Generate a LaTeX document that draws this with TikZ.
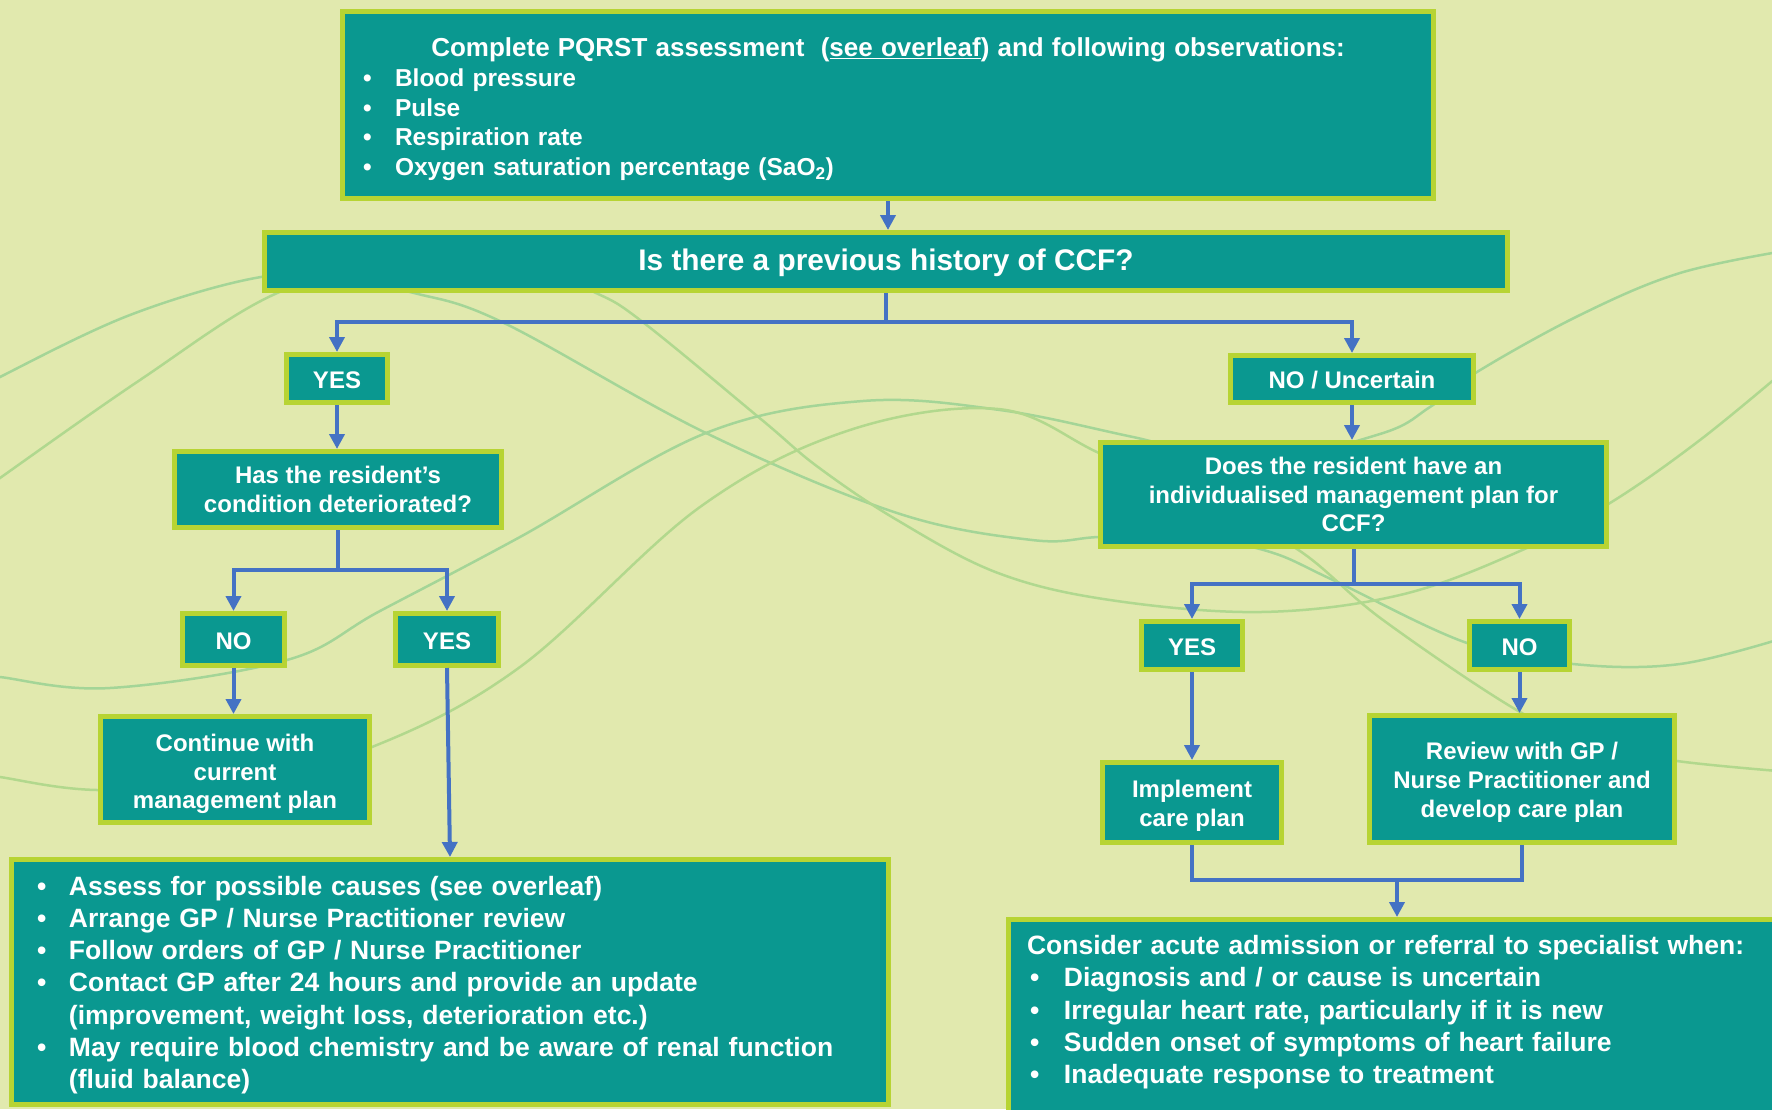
\documentclass[tikz,border=0pt]{standalone}
\usepackage{fontspec}
\setmainfont{Liberation Sans}
\usetikzlibrary{arrows.meta}

\definecolor{bgc}{HTML}{E1E9AE}
\definecolor{boxfill}{HTML}{0A9890}
\definecolor{boxedge}{HTML}{B7D433}
\definecolor{flow}{HTML}{4472C4}
\definecolor{wavegreen}{HTML}{A4D597}
\definecolor{waveyellow}{HTML}{C1DC82}

% font size + bold
\newcommand{\fs}[2]{\fontsize{#1}{#2}\selectfont\bfseries}
% bullet line with hanging indent
\newcommand{\bitem}[1]{\par\hangindent=32pt\hangafter=1\noindent\makebox[32pt][l]{\textbullet}#1}
\newcommand{\citem}[1]{\par\hangindent=37pt\hangafter=1\noindent\makebox[37pt][l]{\hspace{3pt}\textbullet}#1}
% invisible struts for fine vertical placement of text
\newcommand{\up}[1]{\rule{0pt}{#1}}
\newcommand{\down}[1]{\rule[-#1]{0pt}{#1}}

\tikzset{
  box/.style={draw=boxedge, line width=5pt, fill=boxfill, text=white,
    align=center, inner sep=0pt},
  flowline/.style={draw=flow, line width=4pt},
  flowarrow/.style={flowline, -{Triangle[width=15pt,length=15pt]}},
  wave/.style={line width=2.5pt, line cap=round},
}

\begin{document}
\begin{tikzpicture}[x=1pt, y=-1pt]
% page and background
\clip (0,0) rectangle (1772,1109);
\fill[bgc] (0,0) rectangle (1772,1109);

% decorative waves behind the chart
\draw[wave, wavegreen] plot[smooth, tension=0.6] coordinates {
  (-20,390) (0,377) (130,315) (261,277) (340,280) (414,293) (504,323)
  (706,433) (897,513) (1032,540) (1099,537) (1180,535) (1267,551)
  (1333,580) (1467,643) (1573,664) (1680,664) (1790,636)};
\draw[wave, wavegreen!60!waveyellow] plot[smooth, tension=0.6] coordinates {
  (-20,493) (0,478) (140,380) (275,294) (400,262) (530,270) (596,293)
  (644,323) (762,420) (818,467) (897,520) (998,573) (1110,600)
  (1261,612) (1400,595) (1520,551) (1610,503) (1700,440) (1790,366)};
\draw[wave, wavegreen] plot[smooth, tension=0.6] coordinates {
  (-20,674) (0,677) (110,688) (287,660) (380,611) (520,537) (706,433)
  (863,401) (1000,410) (1133,437) (1250,462) (1380,434) (1430,407)
  (1477,372) (1580,315) (1680,273) (1790,250)};
\draw[wave, wavegreen!50!waveyellow] plot[smooth, tension=0.6] coordinates {
  (-20,773) (0,777) (97,790) (235,782) (372,747) (520,667) (700,507)
  (850,430) (998,409) (1099,453) (1200,500) (1297,549) (1383,620)
  (1520,712) (1600,745) (1677,761) (1790,772)};

% boxes
\node[box, text width=1050pt, inner xsep=20.5pt, minimum height=187pt,
      align=left, font=\fs{24.5}{29.5}] (top) at (888,105) {%
  {\centering\fontsize{26}{29.5}\selectfont\up{27pt}Complete PQRST assessment\ \ (\underline{see overleaf}) and following observations:\par}
  \vspace{1pt}
  \bitem{Blood pressure}
  \bitem{Pulse}
  \bitem{Respiration rate}
  \bitem{Oxygen saturation percentage (SaO\textsubscript{2})}\par};

\node[box, minimum width=1243pt, minimum height=58pt, font=\fs{29.8}{34}]
  (ccf) at (886,261.5) {\up{24pt}Is there a previous history of CCF?};

\node[box, minimum width=101pt, minimum height=48pt, font=\fs{24}{29}]
  (yes1) at (337,378.5) {\up{19.5pt}YES};
\node[box, minimum width=243pt, minimum height=47pt, font=\fs{24}{29}]
  (nou) at (1352,379) {\up{19.5pt}NO / Uncertain};

\node[box, minimum width=327pt, minimum height=76pt, font=\fs{24}{29}]
  (has) at (338,489.5) {Has the resident’s\\condition deteriorated?};
\node[box, minimum width=102pt, minimum height=52pt, font=\fs{24}{29}]
  (no1) at (233.5,639.5) {\up{19.5pt}NO};
\node[box, minimum width=103pt, minimum height=52pt, font=\fs{24}{29}]
  (yes2) at (447,639.5) {\up{19.5pt}YES};
\node[box, minimum width=269pt, minimum height=106pt, font=\fs{24}{28.3}]
  (cont) at (235,769.5) {\up{26.5pt}Continue with\\current\\management plan};

\node[box, text width=826pt, inner xsep=25.5pt, minimum height=245pt,
      align=left, font=\fs{26.5}{32.3}] (bl) at (450,982) {%
  \bitem{Assess for possible causes (see overleaf)}
  \bitem{Arrange GP / Nurse Practitioner review}
  \bitem{Follow orders of GP / Nurse Practitioner}
  \bitem{Contact GP after 24 hours and provide an update\newline
    (improvement, weight loss, deterioration etc.)}
  \bitem{May require blood chemistry and be aware of renal function\newline
    (fluid balance)\down{12.5pt}}\par};

\node[box, minimum width=506pt, minimum height=104pt, font=\fs{24}{28.3}]
  (does) at (1353.5,494.5) {Does the resident have an\\individualised management plan for\\CCF?};
\node[box, minimum width=101pt, minimum height=48pt, font=\fs{24}{29}]
  (yes3) at (1192,645.5) {\up{19.5pt}YES};
\node[box, minimum width=100pt, minimum height=48pt, font=\fs{24}{29}]
  (no3) at (1519.5,645.5) {\up{19.5pt}NO};
\node[box, minimum width=179pt, minimum height=80pt, font=\fs{24}{29.4}]
  (impl) at (1192,802.5) {\up{24.3pt}Implement\\care plan};
\node[box, minimum width=305pt, minimum height=127pt, font=\fs{24}{28.8}]
  (rev) at (1522,779) {\up{24.3pt}Review with GP /\\Nurse Practitioner and\\develop care plan};

\node[box, anchor=north west, text width=800pt, inner xsep=18.5pt,
      inner ysep=16pt, align=left, font=\fs{26.5}{32.2}] (br) at (1006,917) {%
  Consider acute admission or referral to specialist when:
  \citem{Diagnosis and / or cause is uncertain}
  \citem{Irregular heart rate, particularly if it is new}
  \citem{Sudden onset of symptoms of heart failure}
  \citem{Inadequate response to treatment\down{60pt}}\par};

% connectors
\draw[flowarrow] (top.south) -- (top.south |- ccf.north);
\draw[flowarrow] (ccf.south) -- ++(0,29) -| (yes1.north);
\draw[flowarrow] (ccf.south) -- ++(0,29) -| (nou.north);

\draw[flowarrow] (yes1.south) -- (yes1.south |- has.north);
\draw[flowarrow] (has.south) -- ++(0,40) -| (no1.north);
\draw[flowarrow] (has.south) -- ++(0,40) -| (yes2.north);
\draw[flowarrow] (no1.south) -- (no1.south |- cont.north);
\draw[flowarrow] (yes2.south) -- ([xshift=3pt]yes2.south |- bl.north);

\draw[flowarrow] (nou.south) -- (nou.south |- does.north);
\draw[flowarrow] (does.south) -- ++(0,35) -| (yes3.north);
\draw[flowarrow] (does.south) -- ++(0,35) -| (no3.north);
\draw[flowarrow] (yes3.south) -- (yes3.south |- impl.north);
\draw[flowarrow] (no3.south) -- (no3.south |- rev.north);

\coordinate (merge) at (1397,880);
\draw[flowline] (impl.south) |- (merge) -| (rev.south);
\draw[flowarrow] (merge) -- (merge |- br.north);
\end{tikzpicture}
\end{document}
